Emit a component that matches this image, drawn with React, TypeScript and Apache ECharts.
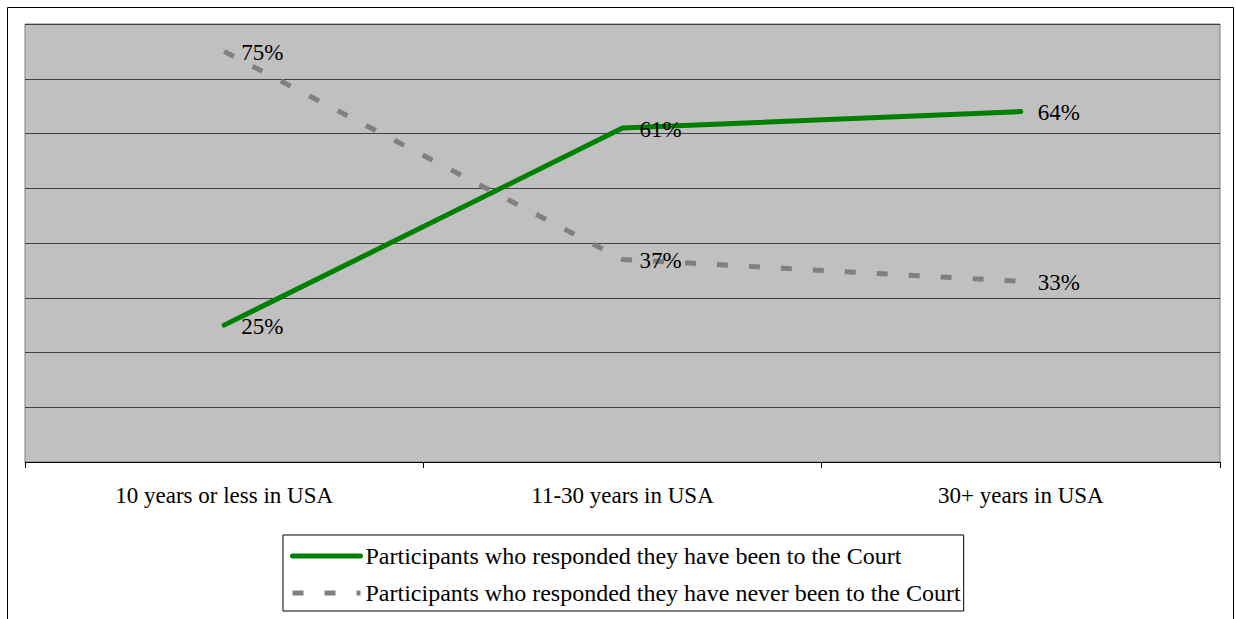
import React, { useEffect, useRef } from "react";
import * as echarts from "echarts";

const categories = ["10 years or less in USA", "11-30 years in USA", "30+ years in USA"];
const beenToCourt = [25, 61, 64];
const neverBeenToCourt = [75, 37, 33];
const seriesNames = [
  "Participants who responded they have been to the Court",
  "Participants who responded they have never been to the Court",
];

const FONT = "'Liberation Serif', 'Times New Roman', serif";

export default function App() {
  const ref = useRef<HTMLDivElement>(null);
  useEffect(() => {
    if (!ref.current) return;
    const chart = echarts.init(ref.current, undefined, { renderer: "svg" });
    const label = {
      show: true,
      position: "right",
      distance: 17,
      offset: [0, 1],
      formatter: (p: any) => p.value + "%",
      color: "#000",
      fontSize: 23,
      fontFamily: FONT,
    };
    chart.setOption({
      animation: false,
      backgroundColor: "#fff",
      graphic: [
        {
          type: "rect",
          shape: { x: 7.5, y: 7.5, width: 1226, height: 700 },
          style: { fill: "none", stroke: "#000", lineWidth: 1 },
          silent: true,
          z: -1,
        },
      ],
      grid: {
        left: 25,
        top: 24,
        right: 16,
        bottom: 157,
        show: true,
        backgroundColor: "#c0c0c0",
        borderColor: "#808080",
        borderWidth: 1,
      },
      legend: {
        orient: "vertical",
        left: 283,
        top: 535,
        backgroundColor: "#fff",
        borderColor: "#000",
        borderWidth: 1,
        padding: [9, 3, 6, 7],
        itemWidth: 68,
        itemHeight: 14,
        itemGap: 13,
        selectedMode: false,
        itemStyle: { opacity: 0 },
        lineStyle: { width: 5 },
        textStyle: { color: "#000", fontSize: 24, fontFamily: FONT, lineHeight: 24 },
        data: seriesNames,
      },
      xAxis: {
        type: "category",
        data: categories,
        boundaryGap: true,
        axisLine: { show: true, lineStyle: { color: "#000", width: 1 } },
        axisTick: { show: true, length: 6, lineStyle: { color: "#000" } },
        axisLabel: { color: "#000", fontSize: 23, fontFamily: FONT, margin: 22 },
        splitLine: { show: false },
      },
      yAxis: {
        type: "value",
        min: 0,
        max: 80,
        interval: 10,
        axisLabel: { show: false },
        axisLine: { show: false },
        axisTick: { show: false },
        splitLine: { show: true, lineStyle: { color: "#404040", width: 1 } },
      },
      series: [
        {
          name: seriesNames[0],
          type: "line",
          data: beenToCourt,
          symbol: "circle",
          symbolSize: 0,
          showSymbol: true,
          lineStyle: { color: "#008000", width: 5, cap: "round" },
          itemStyle: { color: "#008000" },
          label,
          z: 3,
        },
        {
          name: seriesNames[1],
          type: "line",
          data: neverBeenToCourt,
          symbol: "circle",
          symbolSize: 0,
          showSymbol: true,
          lineStyle: { color: "#808080", width: 5, type: [11, 21] },
          itemStyle: { color: "#808080" },
          label,
          z: 2,
        },
      ],
    });
    return () => chart.dispose();
  }, []);
  return (
    <div
      ref={ref}
      style={{ position: "fixed", left: 0, top: 0, width: 1236, height: 619 }}
    />
  );
}
